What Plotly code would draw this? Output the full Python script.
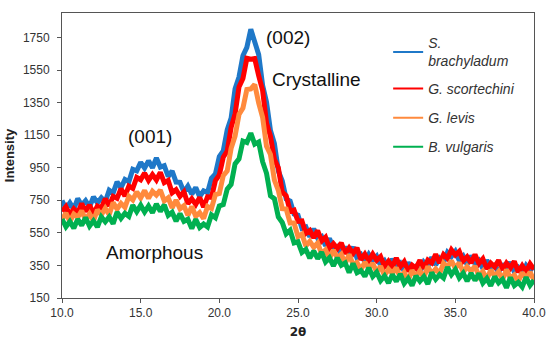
import plotly.graph_objects as go

# 2-theta sampling grid (degrees): 10.0 .. 40.0 every 0.25
THETA_START = 10.0
THETA_STEP = 0.25

s_brachyladum = [748, 699, 734, 694, 761, 720, 748, 709, 770, 735, 765, 741, 812, 795, 863, 827, 878, 864, 940, 931,
                 983, 948, 992, 950, 1010, 954, 963, 896, 930, 862, 860, 801, 837, 788, 828, 772, 808, 797, 885, 911,
                 1018, 1053, 1182, 1255, 1435, 1507, 1638, 1689, 1800, 1715, 1645, 1456, 1352, 1178, 1098, 930, 868, 757, 745, 666,
                 658, 578, 587, 526, 575, 517, 528, 471, 515, 458, 467, 418, 464, 421, 463, 396, 416, 372, 418, 381,
                 406, 349, 377, 330, 390, 342, 363, 315, 368, 322, 343, 308, 370, 343, 400, 353, 393, 367, 430, 404,
                 436, 380, 407, 355, 410, 360, 380, 331, 382, 333, 350, 307, 360, 323, 370, 310, 336, 298, 349, 318,
                 348]

g_scortechini = [681, 711, 660, 697, 670, 730, 682, 720, 668, 715, 703, 760, 716, 774, 762, 822, 775, 837, 823, 890,
                 876, 917, 872, 908, 875, 922, 858, 872, 796, 815, 775, 802, 729, 760, 724, 768, 708, 772, 768, 871,
                 906, 1015, 1052, 1198, 1280, 1446, 1498, 1622, 1616, 1620, 1515, 1425, 1224, 1143, 1002, 950, 800, 777, 683, 690,
                 621, 623, 547, 565, 520, 564, 500, 523, 456, 484, 453, 488, 422, 458, 424, 458, 385, 419, 378, 420,
                 381, 404, 345, 376, 343, 396, 342, 373, 314, 352, 333, 382, 332, 383, 365, 418, 365, 417, 393, 446,
                 414, 437, 377, 403, 366, 417, 361, 390, 329, 364, 341, 382, 323, 364, 335, 375, 308, 348, 312, 360,
                 326]

g_levis = [632, 672, 620, 665, 646, 685, 631, 667, 624, 692, 660, 701, 662, 737, 696, 731, 706, 774, 752, 802,
           764, 810, 762, 805, 782, 812, 746, 765, 704, 751, 698, 717, 657, 712, 652, 674, 638, 712, 700, 785,
           792, 902, 930, 1069, 1144, 1277, 1316, 1430, 1434, 1461, 1348, 1260, 1082, 1031, 874, 811, 698, 696, 610, 610,
           527, 542, 470, 498, 462, 488, 421, 446, 392, 444, 396, 419, 362, 417, 356, 369, 323, 371, 330, 364,
           310, 345, 288, 327, 302, 336, 276, 307, 259, 320, 283, 318, 274, 344, 299, 329, 300, 364, 338, 380,
           332, 367, 308, 343, 314, 346, 284, 314, 264, 323, 283, 312, 262, 324, 271, 291, 252, 306, 271, 309,
           260]

b_vulgaris = [635, 587, 620, 579, 634, 596, 644, 591, 624, 586, 648, 618, 648, 606, 678, 639, 670, 651, 720, 680,
              720, 678, 715, 674, 727, 682, 722, 657, 677, 622, 668, 621, 634, 576, 633, 583, 604, 586, 661, 643,
              715, 724, 818, 848, 974, 1004, 1114, 1105, 1162, 1095, 1108, 987, 916, 778, 760, 647, 614, 544, 566, 488,
              495, 430, 448, 395, 439, 392, 432, 371, 397, 347, 396, 351, 366, 307, 362, 305, 319, 283, 336, 282,
              308, 257, 286, 242, 294, 252, 297, 240, 270, 227, 286, 253, 281, 236, 306, 265, 294, 273, 339, 293,
              325, 274, 303, 254, 302, 258, 300, 242, 270, 225, 281, 243, 265, 213, 276, 227, 247, 218, 277, 228,
              259]

series_names = ["<i>S.<br>brachyladum</i>", "<i>G. scortechini</i>", "<i>G. levis</i>", "<i>B. vulgaris</i>"]
series_values = [s_brachyladum, g_scortechini, g_levis, b_vulgaris]
series_colors = ["#1f78c8", "#ff0000", "#ff8a3d", "#00b050"]
series_legend = ["legend", "legend2", "legend2", "legend2"]

y_ticks = [150, 350, 550, 750, 950, 1150, 1350, 1550, 1750]
x_ticks = [10, 15, 20, 25, 30, 35, 40]

two_theta = [THETA_START + THETA_STEP * i for i in range(len(s_brachyladum))]

FONT = "Liberation Sans, Arial, sans-serif"

fig = go.Figure()
for i, (name, vals, col) in enumerate(zip(series_names, series_values, series_colors)):
    fig.add_trace(go.Scatter(
        x=two_theta, y=vals, mode="lines", name=name,
        line=dict(color=col, width=5), showlegend=False, legendgroup=f"g{i}",
    ))
# legend keys (thin lines, as in the original legend)
for i, (name, col, lg) in enumerate(zip(series_names, series_colors, series_legend)):
    fig.add_trace(go.Scatter(
        x=[None], y=[None], mode="lines", name=name,
        line=dict(color=col, width=2), legendgroup=f"g{i}", legend=lg,
    ))

annotations = [
    dict(x=24.37, y=1747, text="(002)"),
    dict(x=26.15, y=1490, text="Crystalline"),
    dict(x=15.6, y=1142, text="(001)"),
    dict(x=15.9, y=428, text="Amorphous"),
]
for a in annotations:
    fig.add_annotation(x=a["x"], y=a["y"], text=a["text"], showarrow=False,
                       xref="x", yref="y",
                       font=dict(family=FONT, size=19, color="#111"))

axis_common = dict(
    showline=True, linecolor="#555", linewidth=1, mirror=True, automargin=False,
    ticks="outside", ticklen=4, tickcolor="#555", showgrid=False, zeroline=False,
    tickfont=dict(family=FONT, size=12, color="#333"),
)

legend_common = dict(xanchor="left", yanchor="top", bgcolor="rgba(0,0,0,0)",
                     font=dict(family=FONT, size=14, color="#333"))

fig.update_layout(
    width=550, height=339,
    margin=dict(l=62, r=16, t=13, b=41),
    paper_bgcolor="white", plot_bgcolor="white",
    showlegend=True,
    legend=dict(x=0.691, y=0.95, **legend_common),
    legend2=dict(x=0.691, y=0.79, tracegroupgap=8, **legend_common),
    xaxis=dict(range=[10, 40], tickvals=x_ticks, tickformat=".1f",
               title=dict(text="<b>2θ</b>", standoff=13,
                          font=dict(family="DejaVu Sans, sans-serif", size=12, color="#222")),
               **axis_common),
    yaxis=dict(range=[150, 1900], tickvals=y_ticks, ticklabelstandoff=5,
               title=dict(text="<b>Intensity</b>", standoff=5,
                          font=dict(family=FONT, size=13, color="#222")),
               **axis_common),
)

fig.write_html("out.html",
               config={"displayModeBar": False},
               post_script="document.body.style.margin='0px';document.body.style.overflow='hidden';")
